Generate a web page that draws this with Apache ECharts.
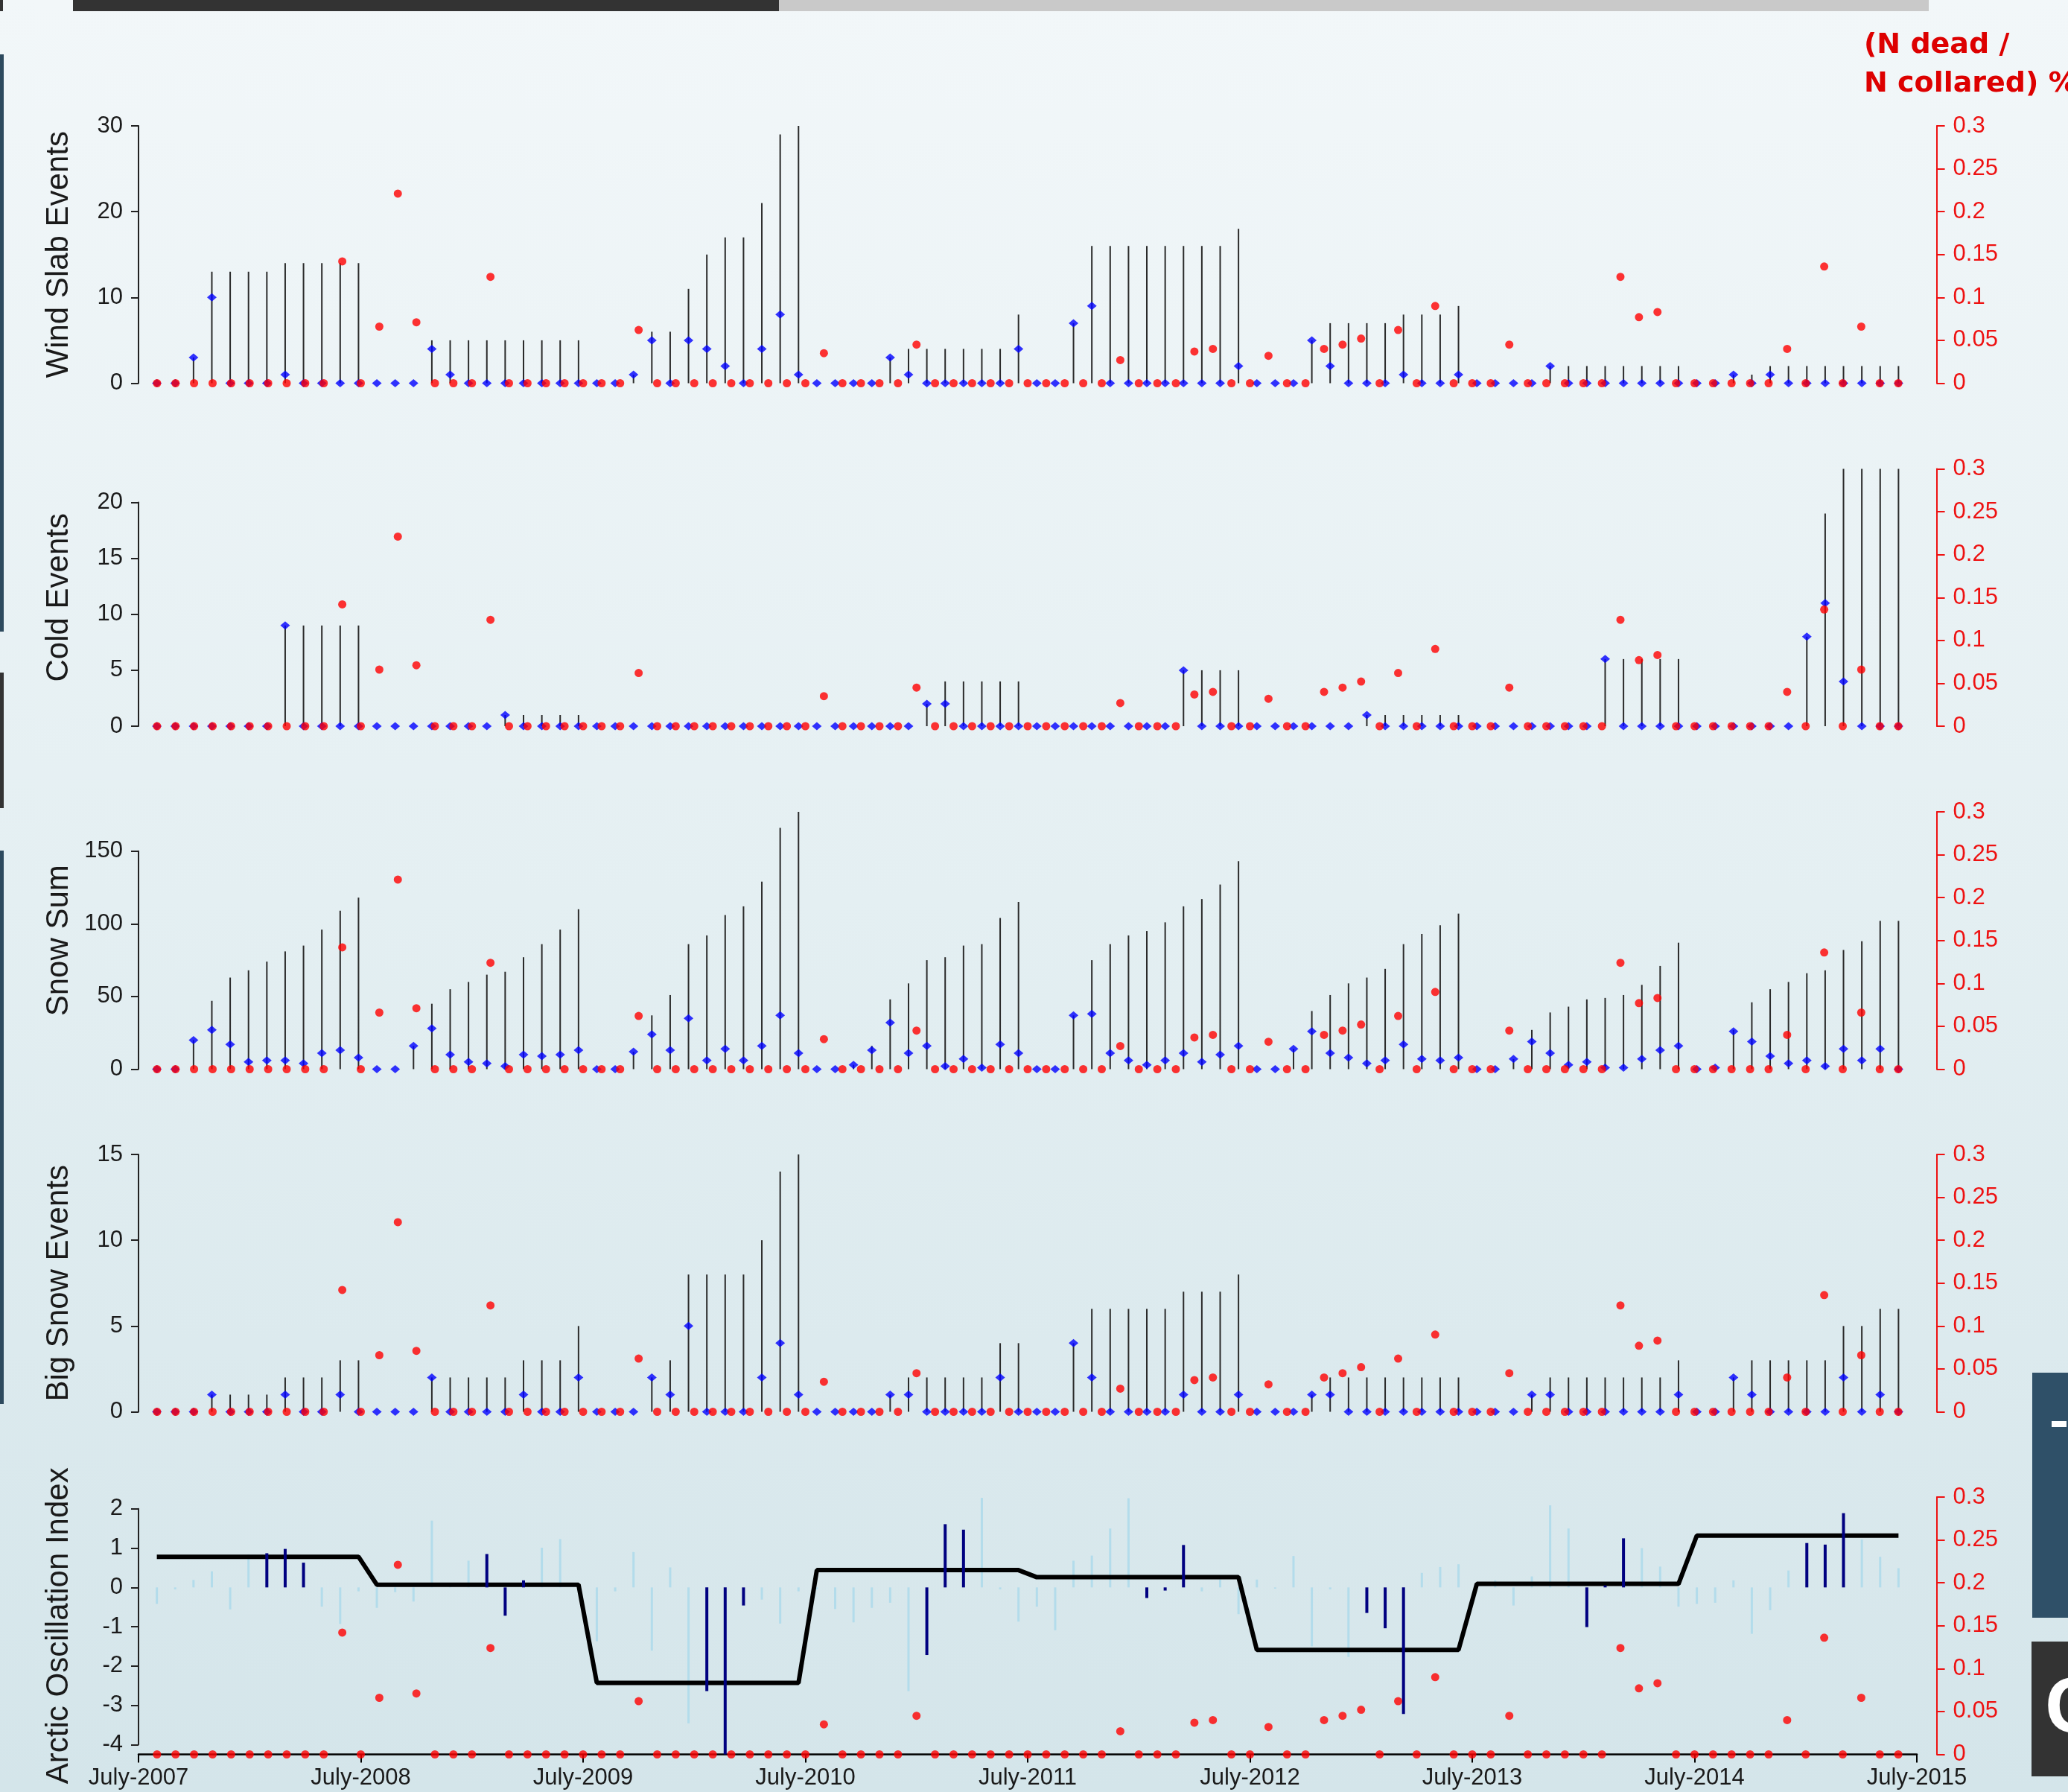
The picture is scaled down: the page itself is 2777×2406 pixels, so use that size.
<!DOCTYPE html>
<html>
<head>
<meta charset="utf-8">
<script src="https://cdn.jsdelivr.net/npm/echarts@6/dist/echarts.min.js"></script>
<style>
  html, body { margin: 0; padding: 0; }
  #chart { width: 2777px; height: 2406px; }
</style>
</head>
<body>
<div id="chart"></div>
<script>
// x tick labels (one per July, every 12 months)
const yearLabels = ['July-2007', 'July-2008', 'July-2009', 'July-2010', 'July-2011',
                    'July-2012', 'July-2013', 'July-2014', 'July-2015'];

// mortality (N dead / N collared), months 1..95 after July-2007
const mortality = [
  0, 0, 0, 0, 0, 0, 0, 0, 0, 0, 0.142, 0,
  0.066, 0.221, 0.071, 0, 0, 0, 0.124, 0, 0, 0, 0, 0,
  0, 0, 0.062, 0, 0, 0, 0, 0, 0, 0, 0, 0,
  0.035, 0, 0, 0, 0, 0.045, 0, 0, 0, 0, 0, 0,
  0, 0, 0, 0, 0.027, 0, 0, 0, 0.037, 0.040, 0, 0,
  0.032, 0, 0, 0.040, 0.045, 0.052, 0, 0.062, 0, 0.090, 0, 0,
  0, 0.045, 0, 0, 0, 0, 0, 0.124, 0.077, 0.083, 0, 0,
  0, 0, 0, 0, 0.040, 0, 0.136, 0, 0.066, 0, 0
];

// weather series, months 1..96 (July-2007 = 1): cumulative season total (stems) and monthly count (diamonds)
const windStem = [
  0, 0, 3, 13, 13, 13, 13, 14, 14, 14, 14, 14,
  0, 0, 0, 5, 5, 5, 5, 5, 5, 5, 5, 5,
  0, 0, 1, 6, 6, 11, 15, 17, 17, 21, 29, 30,
  0, 0, 0, 0, 3, 4, 4, 4, 4, 4, 4, 8,
  0, 0, 7, 16, 16, 16, 16, 16, 16, 16, 16, 18,
  0, 0, 0, 5, 7, 7, 7, 7, 8, 8, 8, 9,
  0, 0, 0, 0, 2, 2, 2, 2, 2, 2, 2, 2,
  0, 0, 1, 1, 2, 2, 2, 2, 2, 2, 2, 2
];
const windMonthly = [
  0, 0, 3, 10, 0, 0, 0, 1, 0, 0, 0, 0,
  0, 0, 0, 4, 1, 0, 0, 0, 0, 0, 0, 0,
  0, 0, 1, 5, 0, 5, 4, 2, 0, 4, 8, 1,
  0, 0, 0, 0, 3, 1, 0, 0, 0, 0, 0, 4,
  0, 0, 7, 9, 0, 0, 0, 0, 0, 0, 0, 2,
  0, 0, 0, 5, 2, 0, 0, 0, 1, 0, 0, 1,
  0, 0, 0, 0, 2, 0, 0, 0, 0, 0, 0, 0,
  0, 0, 1, 0, 1, 0, 0, 0, 0, 0, 0, 0
];

const coldStem = [
  0, 0, 0, 0, 0, 0, 0, 9, 9, 9, 9, 9,
  0, 0, 0, 0, 0, 0, 0, 1, 1, 1, 1, 1,
  0, 0, 0, 0, 0, 0, 0, 0, 0, 0, 0, 0,
  0, 0, 0, 0, 0, 0, 2, 4, 4, 4, 4, 4,
  0, 0, 0, 0, 0, 0, 0, 0, 5, 5, 5, 5,
  0, 0, 0, 0, 0, 0, 1, 1, 1, 1, 1, 1,
  0, 0, 0, 0, 0, 0, 0, 6, 6, 6, 6, 6,
  0, 0, 0, 0, 0, 0, 8, 19, 23, 23, 23, 23
];
const coldMonthly = [
  0, 0, 0, 0, 0, 0, 0, 9, 0, 0, 0, 0,
  0, 0, 0, 0, 0, 0, 0, 1, 0, 0, 0, 0,
  0, 0, 0, 0, 0, 0, 0, 0, 0, 0, 0, 0,
  0, 0, 0, 0, 0, 0, 2, 2, 0, 0, 0, 0,
  0, 0, 0, 0, 0, 0, 0, 0, 5, 0, 0, 0,
  0, 0, 0, 0, 0, 0, 1, 0, 0, 0, 0, 0,
  0, 0, 0, 0, 0, 0, 0, 6, 0, 0, 0, 0,
  0, 0, 0, 0, 0, 0, 8, 11, 4, 0, 0, 0
];

const snowStem = [
  0, 0, 20, 47, 63, 68, 74, 81, 85, 96, 109, 118,
  0, 0, 16, 45, 55, 60, 65, 67, 77, 86, 96, 110,
  0, 0, 12, 37, 51, 86, 92, 106, 112, 129, 166, 177,
  0, 0, 3, 16, 48, 59, 75, 77, 85, 86, 104, 115,
  0, 0, 37, 75, 86, 92, 95, 101, 112, 117, 127, 143,
  0, 0, 14, 40, 51, 59, 63, 69, 86, 93, 99, 107,
  0, 0, 7, 27, 39, 43, 48, 49, 51, 58, 71, 87,
  0, 1, 27, 46, 55, 60, 66, 68, 82, 88, 102, 102
];
const snowMonthly = [
  0, 0, 20, 27, 17, 5, 6, 6, 4, 11, 13, 8,
  0, 0, 16, 28, 10, 5, 4, 2, 10, 9, 10, 13,
  0, 0, 12, 24, 13, 35, 6, 14, 6, 16, 37, 11,
  0, 0, 3, 13, 32, 11, 16, 2, 7, 1, 17, 11,
  0, 0, 37, 38, 11, 6, 3, 6, 11, 5, 10, 16,
  0, 0, 14, 26, 11, 8, 4, 6, 17, 7, 6, 8,
  0, 0, 7, 19, 11, 3, 5, 1, 1, 7, 13, 16,
  0, 1, 26, 19, 9, 4, 6, 2, 14, 6, 14, 0
];

const bigSnowStem = [
  0, 0, 0, 1, 1, 1, 1, 2, 2, 2, 3, 3,
  0, 0, 0, 2, 2, 2, 2, 2, 3, 3, 3, 5,
  0, 0, 0, 2, 3, 8, 8, 8, 8, 10, 14, 15,
  0, 0, 0, 0, 1, 2, 2, 2, 2, 2, 4, 4,
  0, 0, 4, 6, 6, 6, 6, 6, 7, 7, 7, 8,
  0, 0, 0, 1, 2, 2, 2, 2, 2, 2, 2, 2,
  0, 0, 0, 1, 2, 2, 2, 2, 2, 2, 2, 3,
  0, 0, 2, 3, 3, 3, 3, 3, 5, 5, 6, 6
];
const bigSnowMonthly = [
  0, 0, 0, 1, 0, 0, 0, 1, 0, 0, 1, 0,
  0, 0, 0, 2, 0, 0, 0, 0, 1, 0, 0, 2,
  0, 0, 0, 2, 1, 5, 0, 0, 0, 2, 4, 1,
  0, 0, 0, 0, 1, 1, 0, 0, 0, 0, 2, 0,
  0, 0, 4, 2, 0, 0, 0, 0, 1, 0, 0, 1,
  0, 0, 0, 1, 1, 0, 0, 0, 0, 0, 0, 0,
  0, 0, 0, 1, 1, 0, 0, 0, 0, 0, 0, 1,
  0, 0, 2, 1, 0, 0, 0, 0, 2, 0, 1, 0
];

// monthly Arctic Oscillation index, months 1..96
const aoMonthly = [
  -0.42, -0.05, 0.19, 0.41, -0.56, 0.84, 0.87, 0.98, 0.63, -0.49, -0.93, -0.10,
  -0.52, -0.12, -0.36, 1.70, 0.02, 0.68, 0.85, -0.72, 0.18, 1.01, 1.23, -0.05,
  -1.37, -0.10, 0.90, -1.61, 0.51, -3.46, -2.64, -4.27, -0.46, -0.31, -0.92, -0.10,
  -0.05, -0.55, -0.89, -0.52, -0.39, -2.64, -1.72, 1.61, 1.47, 2.28, -0.05, -0.87,
  -0.49, -1.09, 0.68, 0.81, 1.50, 2.27, -0.27, -0.08, 1.08, -0.10, 0.20, -0.68,
  0.20, -0.03, 0.80, -1.50, -0.05, -1.77, -0.65, -1.04, -3.22, 0.37, 0.52, 0.59,
  0.05, 0.18, -0.46, 0.28, 2.09, 1.50, -1.01, 0.05, 1.25, 1.00, 0.53, -0.49,
  -0.42, -0.39, 0.18, -1.18, -0.58, 0.43, 1.13, 1.09, 1.89, 1.22, 0.78, 0.49
];
// Jan-Mar months drawn dark
const winterMonths = [7, 8, 9, 19, 20, 21, 31, 32, 33, 43, 44, 45,
                      55, 56, 57, 67, 68, 69, 79, 80, 81, 91, 92, 93];
// winter (JFM) mean per July-June year
const aoWinterMean = [0.78, 0.07, -2.43, 0.44, 0.26, -1.59, 0.09, 1.32];

const panelAxes = [
  { name: 'Wind Slab Events', min: 0, max: 30, tickMin: 0, tickMax: 30, interval: 10 },
  { name: 'Cold Events', min: 0, max: 23, tickMin: 0, tickMax: 20, interval: 5 },
  { name: 'Snow Sum', min: 0, max: 177, tickMin: 0, tickMax: 150, interval: 50 },
  { name: 'Big Snow Events', min: 0, max: 15, tickMin: 0, tickMax: 15, interval: 5 },
  { name: 'Arctic Oscillation Index', min: -4.25, max: 2.3, tickMin: -4, tickMax: 2, interval: 1 }
];

const LEFT = 186;
const PLOT_W = 2388;
const PANEL_H = 345.5;
const TOPS = [169, 629.5, 1090, 1550, 2010];
const RED = '#ee1111';
const FONT = 'Liberation Sans';

const grid = [], xAxis = [], yAxis = [], series = [];

// 각 패널: 데이터용 grid + 왼쪽 축 눈금 범위만 그리는 grid
function addPanel(k) {
  const cfg = panelAxes[k];
  const isLast = k === panelAxes.length - 1;
  const range = cfg.max - cfg.min;

  const gData = grid.length;
  grid.push({ left: LEFT, top: TOPS[k], width: PLOT_W, height: PANEL_H });
  const gAxis = grid.length;
  grid.push({
    left: LEFT,
    top: TOPS[k] + PANEL_H * (cfg.max - cfg.tickMax) / range,
    width: PLOT_W,
    height: PANEL_H * (cfg.tickMax - cfg.tickMin) / range
  });

  const xMonth = xAxis.length;
  xAxis.push({
    gridIndex: gData, type: 'value', min: 0, max: 96, interval: 12,
    show: isLast,
    axisLine: { show: true, onZero: false, lineStyle: { color: '#000', width: 2.5 } },
    axisTick: { show: true, length: 11, lineStyle: { color: '#000', width: 2 } },
    axisLabel: {
      show: true, fontSize: 31, fontFamily: FONT, color: '#1a1a1a', margin: 16,
      showMinLabel: true, showMaxLabel: true,
      formatter: v => yearLabels[Math.round(v / 12)]
    },
    splitLine: { show: false }
  });
  const xSeason = xAxis.length;
  xAxis.push({ gridIndex: gData, type: 'value', min: 0, max: 97, show: false });
  const xSeason2 = xAxis.length;
  xAxis.push({ gridIndex: gData, type: 'value', min: 0, max: 97, show: false });
  xAxis.push({ gridIndex: gAxis, type: 'value', min: 0, max: 96, show: false });

  const yLeft = yAxis.length;
  yAxis.push({
    gridIndex: gData, type: 'value', min: cfg.min, max: cfg.max, position: 'left',
    name: cfg.name, nameLocation: 'middle', nameGap: 86, nameRotate: 90,
    nameTextStyle: { fontSize: 42, fontFamily: FONT, color: '#1a1a1a' },
    axisLine: { show: false, onZero: false }, axisTick: { show: false }, axisLabel: { show: false },
    splitLine: { show: false }
  });
  const yRight = yAxis.length;
  yAxis.push({
    gridIndex: gData, type: 'value', min: 0, max: 0.3, interval: 0.05, position: 'right',
    offset: 26.6,
    axisLine: { show: true, onZero: false, lineStyle: { color: RED, width: 2 } },
    axisTick: { show: true, length: 11, lineStyle: { color: RED, width: 2 } },
    axisLabel: { fontSize: 31, fontFamily: FONT, color: RED, margin: 22 },
    splitLine: { show: false }
  });
  yAxis.push({
    gridIndex: gAxis, type: 'value', min: cfg.tickMin, max: cfg.tickMax, interval: cfg.interval,
    position: 'left',
    axisLine: { show: true, onZero: false, lineStyle: { color: '#222', width: 2 } },
    axisTick: { show: true, length: 10, lineStyle: { color: '#222', width: 2 } },
    axisLabel: { fontSize: 31, fontFamily: FONT, color: '#1a1a1a', margin: 21 },
    splitLine: { show: false }
  });

  return { xMonth, xSeason, xSeason2, yLeft, yRight };
}

const seasonPoints = arr => arr.map((v, i) => [i + 1, v]);

function mortalitySeries(ax) {
  return {
    type: 'scatter', xAxisIndex: ax.xMonth, yAxisIndex: ax.yRight,
    data: mortality.map((v, i) => [i + 1, v]),
    symbol: 'circle', symbolSize: 11, clip: false,
    itemStyle: { color: '#ff0000' }, z: 5
  };
}

const weather = [
  [windStem, windMonthly],
  [coldStem, coldMonthly],
  [snowStem, snowMonthly],
  [bigSnowStem, bigSnowMonthly]
];

weather.forEach(([stems, monthly], k) => {
  const ax = addPanel(k);
  series.push({
    type: 'bar', xAxisIndex: ax.xSeason, yAxisIndex: ax.yLeft,
    data: seasonPoints(stems), barWidth: 2,
    itemStyle: { color: '#2a2a2a' }, z: 2
  });
  series.push({
    type: 'scatter', xAxisIndex: ax.xSeason, yAxisIndex: ax.yLeft,
    data: seasonPoints(monthly), symbol: 'diamond', symbolSize: [13, 11], clip: false,
    itemStyle: { color: '#0000ff' }, z: 3
  });
  series.push(mortalitySeries(ax));
});

// Arctic Oscillation panel
const ao = addPanel(4);
series.push({
  type: 'bar', xAxisIndex: ao.xSeason, yAxisIndex: ao.yLeft,
  data: aoMonthly.map((v, i) => [i + 1, winterMonths.includes(i + 1) ? null : v]),
  barWidth: 3, itemStyle: { color: '#b3dceb' }, z: 2
});
series.push({
  type: 'line', xAxisIndex: ao.xSeason, yAxisIndex: ao.yLeft,
  data: aoMonthly.map((v, i) => [i + 1, aoWinterMean[Math.floor(i / 12)]]),
  showSymbol: false, lineStyle: { color: '#000', width: 6 }, z: 3
});
series.push({
  type: 'bar', xAxisIndex: ao.xSeason2, yAxisIndex: ao.yLeft,
  data: aoMonthly.map((v, i) => [i + 1, winterMonths.includes(i + 1) ? v : null]),
  barWidth: 4, itemStyle: { color: '#000080' }, z: 4
});
series.push(mortalitySeries(ao));

const chart = echarts.init(document.getElementById('chart'));
chart.setOption({
  animation: false,
  backgroundColor: {
    type: 'linear', x: 0, y: 0, x2: 0, y2: 1,
    colorStops: [
      { offset: 0, color: '#f2f7f9' },
      { offset: 0.5, color: '#e4eff2' },
      { offset: 1, color: '#d4e5ea' }
    ]
  },
  title: {
    text: '(N dead /\nN collared) %',
    left: 2498, top: 30,
    textStyle: { color: '#dd0000', fontSize: 38, fontWeight: 'bold', fontFamily: 'DejaVu Sans', lineHeight: 52 }
  },
  // 슬라이드 장식 (상단 진행 막대, 좌우 가장자리)
  graphic: [
    { type: 'rect', shape: { x: 0, y: 0, width: 4, height: 15 }, style: { fill: '#333333' } },
    { type: 'rect', shape: { x: 98, y: 0, width: 948, height: 15 }, style: { fill: '#333333' } },
    { type: 'rect', shape: { x: 1046, y: 0, width: 1544, height: 15 }, style: { fill: '#c9c9c9' } },
    { type: 'rect', shape: { x: 0, y: 73, width: 5, height: 775 }, style: { fill: '#2d4a5e' } },
    { type: 'rect', shape: { x: 0, y: 903, width: 5, height: 182 }, style: { fill: '#333333' } },
    { type: 'rect', shape: { x: 0, y: 1142, width: 5, height: 743 }, style: { fill: '#2d4a5e' } },
    { type: 'rect', shape: { x: 2729, y: 1843, width: 48, height: 329 }, style: { fill: '#2f5068' } },
    { type: 'rect', shape: { x: 2755, y: 1908, width: 20, height: 8 }, style: { fill: '#ffffff' } },
    { type: 'rect', shape: { x: 2728, y: 2204, width: 49, height: 181 }, style: { fill: '#333333' } },
    { type: 'text', x: 2746, y: 2297, style: { text: 'C', fill: '#ffffff', font: 'bold 106px "Liberation Sans"', verticalAlign: 'middle' } }
  ],
  grid, xAxis, yAxis, series
});
</script>
</body>
</html>
